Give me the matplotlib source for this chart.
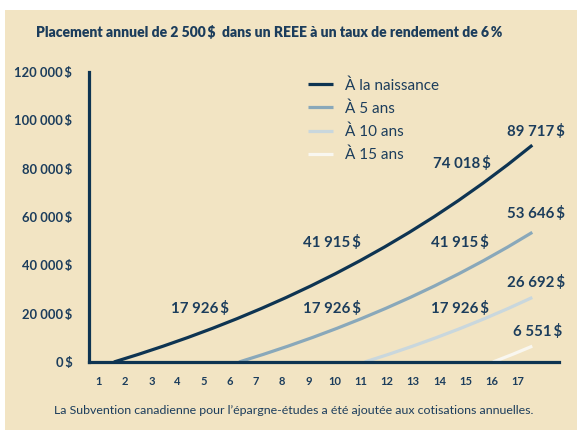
import matplotlib
matplotlib.use("Agg")
import matplotlib.pyplot as plt
from matplotlib.patches import Rectangle
from matplotlib.ticker import FuncFormatter

# ---- data ----
years_ticks = list(range(1, 18))
y_ticks = [0, 20000, 40000, 60000, 80000, 100000, 120000]

series_names = ["À la naissance", "À 5 ans", "À 10 ans", "À 15 ans"]
naissance = [0, 3180, 6551, 10124, 13911, 17926, 22182, 26692, 31474, 36542,
             41915, 47610, 53646, 60045, 66828, 74018, 81639, 89717]
a5ans = [0, 3180, 6551, 10124, 13911, 17926, 22182, 26692, 31474, 36542,
         41915, 47610, 53646]
a10ans = [0, 3180, 6551, 10124, 13911, 17926, 22182, 26692]
a15ans = [0, 3180, 6551]
all_series = [naissance, a5ans, a10ans, a15ans]
labelled_years = [[5, 10, 15, 17], [5, 10, 12], [5, 7], [2]]

# ---- style / layout ----
BG = "#f2e4c3"
NAVY = "#0e3452"
TXT = "#1c3d5c"
colors = ["#0e3452", "#89a8ba", "#c9d7dd", "#f9f7f0"]
line_start_x = [1.57, 6.35, 11.15, 16.05]   # where each curve leaves the axis
END_X = 17.55
FONT = ["Lato", "DejaVu Sans"]
plt.rcParams["font.family"] = FONT

fig = plt.figure(figsize=(5.77, 4.30), dpi=100, facecolor="white")
fig.patches.append(Rectangle((5 / 577, 0), 1, 1 - 10 / 430, transform=fig.transFigure,
                             facecolor=BG, edgecolor="none", zorder=-100))

ax = fig.add_axes([89 / 577, 1 - 362 / 430, (559 - 89) / 577, (362 - 72) / 430])
ax.set_facecolor("none")

for name, vals, col, x0 in zip(series_names, all_series, colors, line_start_x):
    n = len(vals) - 1
    step = (END_X - x0) / n
    xs = [x0 + k * step for k in range(len(vals))]
    ax.plot(xs, vals, color=col, lw=2.3, label=name, solid_capstyle="butt", zorder=3)

# value label layout: (x in tick units, y in axis units)
lab_pos = {
    (0, 5): (4.85, 22300), (0, 10): (9.9, 49600), (0, 15): (14.85, 82300), (0, 17): (17.7, 95200),
    (1, 5): (9.9, 22300), (1, 10): (14.8, 49600), (1, 12): (17.7, 61600),
    (2, 5): (14.8, 22300), (2, 7): (17.7, 32700),
    (3, 2): (17.75, 12800),
}


def fmt_money(v):
    s = f"{int(round(v)):,}".replace(",", " ")
    return s + "\u2009$"


for si, yrs in enumerate(labelled_years):
    for yr in yrs:
        x, y = lab_pos[(si, yr)]
        ax.text(x, y, fmt_money(all_series[si][yr]), ha="center", va="center",
                fontsize=10.8, fontweight="bold", color=TXT, zorder=4)

ax.set_xlim(0.618, 18.57)
ax.set_ylim(0, 120000)
ax.set_xticks(years_ticks)
ax.set_yticks(y_ticks)
ax.yaxis.set_major_formatter(FuncFormatter(lambda v, p: fmt_money(v)))
ax.tick_params(axis="y", length=0, pad=12, labelsize=9.4, labelcolor=TXT)
ax.tick_params(axis="x", length=0, pad=10, labelsize=8, labelcolor=TXT)
for lab in ax.get_xticklabels() + ax.get_yticklabels():
    lab.set_fontweight("bold")
for s in ["top", "right"]:
    ax.spines[s].set_visible(False)
for s in ["left", "bottom"]:
    ax.spines[s].set_color(NAVY)
    ax.spines[s].set_linewidth(2.3)
    ax.spines[s].set_zorder(5)

leg = ax.legend(loc="upper left", bbox_to_anchor=(308 / 577, 1 - 78 / 430),
                bbox_transform=fig.transFigure, frameon=False, fontsize=11,
                handlelength=1.64, handletextpad=0.78, labelspacing=0.57,
                borderaxespad=0, borderpad=0)
for t in leg.get_texts():
    t.set_color(TXT)

fig.text(269 / 577, 1 - 32 / 430,
         "Placement annuel de 2 500\u2009$  dans un REEE à un taux de rendement de 6\u2009%",
         ha="center", va="center", fontsize=10, fontweight="heavy", color=TXT)
fig.text(294 / 577, 1 - 410 / 430,
         "La Subvention canadienne pour l\u2019épargne-études a été ajoutée aux cotisations annuelles.",
         ha="center", va="center", fontsize=8.9, color=TXT)

fig.savefig("out.png", dpi=100, facecolor="white")
